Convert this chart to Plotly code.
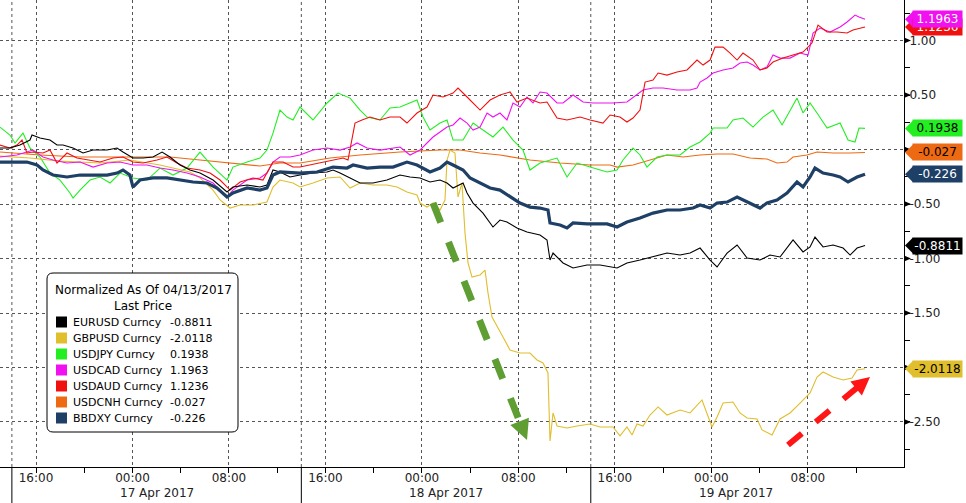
import plotly.graph_objects as go
import pandas as pd

BASE = pd.Timestamp("2017-04-16 16:00")

# ---- data: hours since 16 Apr 2017 16:00, normalized values ----
eur_h = [-2.99,-2.16,-1.33,-0.50,-0.33,0.33,1.16,1.74,2.24,3.07,3.90,4.73,5.89,6.72,7.21,8.04,8.87,9.70,10.45,11.11,11.94,12.77,13.60,14.68,15.84,16.33,17.50,18.57,19.15,19.65,20.23,21.06,21.89,22.97,24.13,24.63,25.21,26.04,26.87,27.94,29.10,30.18,31.01,31.84,32.67,33.50,34.08,34.58,35.41,35.74,36.24,37.06,37.89,38.47,39.05,39.88,40.71,41.79,42.37,42.62,42.87,43.70,44.53,45.69,46.77,48.18,49.00,50.08,51.16,52.32,53.40,54.23,55.06,55.89,56.47,57.30,58.13,58.96,60.03,60.86,61.69,62.77,63.60,64.18,64.59,65.26,66.09,66.92,67.50,68.08,68.74]
eur_v = [0.014,0.014,0.041,0.087,0.133,0.106,0.087,0.041,0.041,0.014,-0.032,-0.005,-0.005,0.014,-0.023,-0.078,-0.078,-0.069,-0.023,-0.069,-0.142,-0.188,-0.216,-0.280,-0.390,-0.344,-0.326,-0.344,-0.326,-0.188,-0.206,-0.252,-0.234,-0.216,-0.206,-0.188,-0.216,-0.261,-0.307,-0.307,-0.280,-0.234,-0.252,-0.261,-0.298,-0.280,-0.307,-0.353,-0.307,-0.399,-0.491,-0.583,-0.711,-0.647,-0.665,-0.720,-0.757,-0.784,-0.830,-1.014,-0.950,-1.041,-1.087,-1.060,-1.060,-1.087,-1.041,-1.014,-0.986,-0.950,-0.968,-0.950,-0.904,-1.014,-1.078,-0.950,-0.876,-0.995,-1.014,-0.968,-0.986,-0.830,-0.940,-0.894,-0.803,-0.894,-0.876,-0.904,-0.968,-0.904,-0.881]

gbp_h = [-2.99,-0.50,1.99,5.31,7.79,10.28,12.77,13.60,14.68,15.26,16.09,16.92,17.99,19.15,19.65,20.23,21.31,21.89,22.97,24.13,25.21,26.04,26.87,27.94,29.10,29.93,30.76,31.59,31.84,32.42,32.92,33.50,33.91,34.08,34.33,34.74,34.99,35.32,35.57,35.82,36.15,36.82,37.23,37.48,37.81,38.23,38.72,39.30,40.13,40.96,41.54,42.04,42.45,42.62,42.87,43.20,44.03,44.86,45.94,46.77,47.84,48.42,49.00,49.42,49.83,50.33,50.91,51.58,52.32,53.40,54.23,55.22,56.05,56.47,56.97,57.79,58.37,58.96,59.78,60.20,61.03,61.69,62.52,63.35,64.18,64.76,65.26,66.09,66.92,67.66,68.08,68.74]
gbp_v = [-0.060,-0.078,-0.106,-0.124,-0.096,-0.142,-0.206,-0.261,-0.372,-0.463,-0.537,-0.509,-0.509,-0.482,-0.344,-0.280,-0.307,-0.344,-0.307,-0.261,-0.252,-0.353,-0.307,-0.326,-0.326,-0.344,-0.390,-0.417,-0.491,-0.528,-0.491,-0.555,-0.463,-0.096,-0.005,-0.032,-0.436,-0.307,-0.766,-1.041,-1.170,-1.151,-1.106,-1.317,-1.537,-1.628,-1.720,-1.839,-1.867,-1.867,-1.931,-1.959,-2.050,-2.674,-2.417,-2.537,-2.555,-2.537,-2.518,-2.546,-2.546,-2.628,-2.546,-2.619,-2.518,-2.537,-2.436,-2.362,-2.436,-2.390,-2.417,-2.298,-2.546,-2.454,-2.326,-2.317,-2.417,-2.463,-2.472,-2.573,-2.619,-2.472,-2.417,-2.326,-2.234,-2.087,-2.041,-2.087,-2.115,-2.096,-2.023,-2.012]

jpy_h = [-2.99,-2.16,-1.74,-1.08,-0.50,0.33,1.16,1.99,2.82,3.07,3.65,4.48,5.31,6.14,6.97,8.04,9.20,10.28,11.36,12.52,13.60,14.68,15.84,16.33,17.50,18.57,19.15,19.65,20.23,20.81,21.31,21.89,22.97,24.13,25.04,26.04,26.87,27.45,28.52,29.35,30.18,31.59,32.09,32.67,33.50,34.08,34.58,35.41,36.24,37.06,37.89,38.72,39.55,40.38,40.96,41.79,43.20,44.03,44.86,45.94,47.35,48.18,48.67,49.50,50.08,50.66,51.49,52.32,53.40,54.23,55.06,55.89,56.14,57.30,57.79,58.62,59.45,60.28,61.11,61.86,62.52,63.10,63.60,64.18,64.76,65.59,66.67,67.33,67.91,68.24,68.74]
jpy_v = [0.206,0.133,0.060,0.151,0.014,-0.069,-0.216,-0.280,-0.399,-0.445,-0.372,-0.280,-0.252,-0.307,-0.216,-0.261,-0.280,-0.170,-0.234,-0.170,-0.023,-0.161,-0.280,-0.161,-0.115,-0.078,-0.005,0.151,0.362,0.298,0.271,0.390,0.271,0.427,0.518,0.472,0.362,0.298,0.271,0.381,0.390,0.454,0.298,0.179,0.243,0.271,0.087,0.087,0.243,0.179,0.115,0.206,0.087,-0.005,-0.188,-0.124,-0.078,-0.252,-0.124,-0.161,-0.206,-0.188,-0.096,0.014,-0.050,-0.161,-0.069,-0.050,-0.050,0.023,0.069,0.151,0.197,0.197,0.271,0.289,0.206,0.298,0.362,0.225,0.362,0.472,0.335,0.427,0.335,0.197,0.243,0.087,0.069,0.197,0.194]

cad_h = [-2.99,-1.58,-0.25,0.58,1.41,2.57,3.65,4.73,5.89,6.97,8.04,9.20,10.28,11.36,12.52,13.60,14.68,15.84,16.33,17.50,18.57,19.15,19.65,20.23,21.06,21.89,22.97,24.13,25.21,26.04,26.62,27.45,28.52,29.60,30.18,31.01,31.84,32.42,32.92,33.50,34.08,34.58,35.16,35.74,36.24,36.82,37.40,37.89,38.47,39.05,39.55,40.13,40.71,41.21,41.79,42.37,43.20,43.70,44.53,45.36,46.19,47.35,47.84,49.00,49.83,50.33,51.16,51.99,53.15,54.23,54.81,55.06,55.64,56.14,56.97,57.79,58.37,58.96,59.45,60.03,60.61,61.11,61.69,62.52,63.35,64.01,64.43,65.01,65.84,66.67,67.25,67.91,68.24,68.74]
cad_v = [-0.069,-0.050,-0.005,-0.069,-0.096,-0.124,-0.115,-0.161,-0.124,-0.115,-0.142,-0.142,-0.170,-0.188,-0.216,-0.252,-0.307,-0.436,-0.372,-0.280,-0.261,-0.216,-0.115,-0.069,-0.069,-0.050,-0.005,0.014,-0.005,0.023,0.060,0.014,-0.005,0.014,0.023,-0.050,-0.005,0.060,0.115,0.161,0.206,0.225,0.289,0.243,0.179,0.206,0.335,0.298,0.335,0.271,0.427,0.390,0.482,0.427,0.528,0.518,0.427,0.427,0.500,0.436,0.427,0.427,0.427,0.436,0.500,0.546,0.564,0.564,0.546,0.546,0.564,0.619,0.656,0.702,0.730,0.748,0.794,0.803,0.775,0.730,0.757,0.867,0.839,0.839,0.885,0.867,1.069,1.115,1.078,1.124,1.170,1.234,1.216,1.196]

aud_h = [-2.99,-2.16,-1.58,-1.16,-0.75,-0.25,0.58,1.16,1.74,2.57,3.40,4.48,5.31,6.38,7.21,8.04,8.87,10.03,10.86,11.69,12.52,13.60,14.43,15.26,16.09,16.92,17.99,18.82,19.65,20.48,21.31,21.89,23.55,25.46,25.87,26.20,26.45,27.03,27.69,28.52,29.35,30.18,30.76,31.59,32.42,32.92,33.75,34.58,34.99,35.74,36.24,36.82,37.65,38.47,39.30,39.88,40.71,41.79,42.37,43.20,44.03,45.11,45.94,47.01,47.60,48.42,49.00,49.50,50.08,50.50,51.16,51.58,52.32,53.15,53.98,54.81,55.31,55.89,56.30,56.97,57.55,58.13,58.62,59.45,60.03,60.61,61.11,61.94,62.77,63.60,64.34,64.84,65.59,66.42,67.25,67.74,68.74]
aud_v = [0.041,0.014,0.041,0.087,-0.032,-0.023,-0.032,-0.005,-0.124,-0.032,-0.078,-0.096,-0.115,-0.078,-0.069,-0.115,-0.124,-0.096,-0.069,-0.124,-0.170,-0.188,-0.216,-0.280,-0.372,-0.298,-0.261,-0.280,-0.115,-0.115,-0.161,-0.161,-0.124,-0.078,-0.096,0.087,0.243,0.271,0.298,0.271,0.298,0.298,0.243,0.335,0.390,0.500,0.482,0.518,0.564,0.482,0.427,0.362,0.454,0.500,0.528,0.436,0.472,0.427,0.436,0.289,0.271,0.298,0.271,0.243,0.317,0.298,0.252,0.289,0.362,0.619,0.638,0.702,0.683,0.711,0.730,0.821,0.775,0.821,0.940,0.940,0.885,0.821,0.885,0.821,0.730,0.748,0.803,0.839,0.867,0.894,0.977,1.142,1.078,1.078,1.069,1.096,1.124]

cnh_h = [-2.99,0.33,3.65,7.79,11.11,13.60,16.09,18.57,20.23,21.89,24.38,26.87,30.18,33.50,35.16,36.82,38.47,40.96,43.45,45.94,47.60,48.18,49.50,50.91,52.32,53.65,55.06,56.47,57.79,59.20,60.61,61.44,62.27,62.77,63.93,64.76,66.09,67.50,68.74]
cnh_v = [-0.023,-0.050,-0.069,-0.069,-0.069,-0.096,-0.124,-0.151,-0.124,-0.124,-0.078,-0.050,-0.023,-0.005,-0.005,-0.032,-0.050,-0.096,-0.124,-0.142,-0.142,-0.161,-0.142,-0.096,-0.050,-0.069,-0.050,-0.041,-0.041,-0.078,-0.087,-0.124,-0.115,-0.069,-0.050,-0.023,-0.032,-0.032,-0.027]

dxy_h = [-2.99,-0.75,0.08,0.58,1.41,2.57,3.65,4.73,5.89,6.72,7.21,7.79,8.04,8.62,9.70,10.86,11.94,13.02,14.18,15.01,15.84,16.33,17.50,18.57,19.15,19.65,20.23,21.31,21.89,23.30,24.63,25.79,26.29,27.45,28.52,29.60,30.76,31.59,32.67,33.50,34.08,34.58,35.41,35.99,36.82,37.65,38.47,39.30,40.13,40.96,41.79,42.45,42.62,43.45,44.03,44.53,45.69,47.35,48.18,49.00,50.08,51.16,52.32,53.40,54.48,55.06,55.89,56.47,57.30,58.13,58.96,60.03,60.61,61.44,62.27,63.10,63.60,64.18,64.59,65.26,66.09,66.67,67.33,68.08,68.74]
dxy_v = [-0.115,-0.115,-0.142,-0.188,-0.234,-0.252,-0.234,-0.234,-0.234,-0.216,-0.188,-0.234,-0.344,-0.280,-0.261,-0.261,-0.280,-0.298,-0.307,-0.353,-0.436,-0.399,-0.353,-0.372,-0.353,-0.234,-0.206,-0.216,-0.216,-0.206,-0.161,-0.170,-0.142,-0.170,-0.161,-0.161,-0.115,-0.142,-0.206,-0.170,-0.115,-0.142,-0.188,-0.261,-0.307,-0.353,-0.372,-0.436,-0.491,-0.528,-0.537,-0.555,-0.674,-0.693,-0.720,-0.674,-0.683,-0.683,-0.711,-0.665,-0.628,-0.583,-0.555,-0.555,-0.537,-0.509,-0.537,-0.491,-0.482,-0.436,-0.482,-0.537,-0.491,-0.463,-0.399,-0.298,-0.344,-0.252,-0.170,-0.216,-0.234,-0.252,-0.298,-0.252,-0.226]

names = ["EURUSD Curncy", "GBPUSD Curncy", "USDJPY Curncy", "USDCAD Curncy",
         "USDAUD Curncy", "USDCNH Curncy", "BBDXY Curncy"]
last_txt = ["-0.8811", "-2.0118", "0.1938", "1.1963", "1.1236", "-0.027", "-0.226"]
last_val = [-0.8811, -2.0118, 0.1938, 1.1963, 1.1236, -0.027, -0.226]
colors = ["#000000", "#E0BE2C", "#22EE22", "#F010F0", "#F01010", "#EE6A12", "#1E3F66"]
tag_font = ["white", "black", "black", "white", "white", "black", "white"]
hours = [eur_h, gbp_h, jpy_h, cad_h, aud_h, cnh_h, dxy_h]
vals = [eur_v, gbp_v, jpy_v, cad_v, aud_v, cnh_v, dxy_v]

ytick_vals = [1.0, 0.5, 0.0, -0.5, -1.0, -1.5, -2.0, -2.5]
ytick_text = ["1.00", "0.50", "", "-0.50", "-1.00", "-1.50", "", "-2.50"]

FONT = "DejaVu Sans"
W, H = 904.0, 467.0          # plot area in pixels
Y0, Y1 = -2.913, 1.372       # y range


def t(h):
    return BASE + pd.to_timedelta(h, unit="h")


def px(x):
    return x / W


def py(y):
    return (H - y) / H


fig = go.Figure()
draw_order = [5, 2, 1, 3, 4, 0, 6]
for i in draw_order:
    fig.add_trace(go.Scatter(
        x=[t(h) for h in hours[i]], y=vals[i], mode="lines",
        line=dict(color=colors[i], width=3.2 if i == 6 else 1.1),
        name=names[i], hoverinfo="skip", showlegend=False))

shapes = []
ann = []

# day separators (14:00 each day) - dotted in plot, solid below axis
for d in ["2017-04-16 14:00", "2017-04-17 14:00", "2017-04-18 14:00"]:
    shapes.append(dict(type="line", xref="x", yref="paper", x0=d, x1=d, y0=0, y1=1,
                       line=dict(color="#555", width=1, dash="dot"), layer="below"))
    shapes.append(dict(type="line", xref="x", yref="paper", x0=d, x1=d, y0=0, y1=-36 / H,
                       line=dict(color="#000", width=1)))

for lab, d in [("17 Apr 2017", "2017-04-17 02:00"), ("18 Apr 2017", "2017-04-18 02:00"),
               ("19 Apr 2017", "2017-04-19 02:00")]:
    ann.append(dict(x=d, xref="x", y=py(493), yref="paper", text=lab, showarrow=False,
                    font=dict(family=FONT, size=12, color="#222"), xanchor="center", yanchor="middle"))

# right-axis major tick triangles
for v in ytick_vals:
    h = 3.0 / 109
    shapes.append(dict(type="path", xref="paper", yref="y",
                       path=f"M {px(904)},{v + h} L {px(911)},{v} L {px(904)},{v - h} Z",
                       fillcolor="black", line=dict(width=0)))

# value tags
tag_order = [0, 1, 2, 4, 3, 5, 6]
hh = 8.0 / 109
for i in tag_order:
    v = last_val[i]
    shapes.append(dict(type="path", xref="paper", yref="y",
                       path=f"M {px(905)},{v} L {px(913)},{v + hh} L {px(913)},{v - hh} Z",
                       fillcolor=colors[i], line=dict(width=0)))
    ann.append(dict(x=px(912), xref="paper", y=v, yref="y", xanchor="left", yanchor="middle",
                    text=last_txt[i], showarrow=False, bgcolor=colors[i],
                    font=dict(family=FONT, size=12, color=tag_font[i]),
                    width=49, height=16, borderpad=0, align="center"))

# legend box
lx0, ly0, lx1, ly1, r = 47, 273, 238, 432, 6
path = (f"M {px(lx0 + r)},{py(ly0)} L {px(lx1 - r)},{py(ly0)} Q {px(lx1)},{py(ly0)} {px(lx1)},{py(ly0 + r)} "
        f"L {px(lx1)},{py(ly1 - r)} Q {px(lx1)},{py(ly1)} {px(lx1 - r)},{py(ly1)} "
        f"L {px(lx0 + r)},{py(ly1)} Q {px(lx0)},{py(ly1)} {px(lx0)},{py(ly1 - r)} "
        f"L {px(lx0)},{py(ly0 + r)} Q {px(lx0)},{py(ly0)} {px(lx0 + r)},{py(ly0)} Z")
shapes.append(dict(type="path", xref="paper", yref="paper", path=path,
                   fillcolor="white", line=dict(color="black", width=1)))
ann.append(dict(x=px(143), y=py(290), xref="paper", yref="paper", text="Normalized As Of 04/13/2017",
                showarrow=False, xanchor="center", yanchor="middle",
                font=dict(family=FONT, size=12, color="black")))
ann.append(dict(x=px(143), y=py(306), xref="paper", yref="paper", text="Last Price",
                showarrow=False, xanchor="center", yanchor="middle",
                font=dict(family=FONT, size=12, color="black")))
for k in range(len(names)):
    yc = 322 + 16 * k
    shapes.append(dict(type="rect", xref="paper", yref="paper", x0=px(56), x1=px(67),
                       y0=py(yc + 5.5), y1=py(yc - 5.5), fillcolor=colors[k], line=dict(width=0)))
    ann.append(dict(x=px(71), y=py(yc), xref="paper", yref="paper", xanchor="left", yanchor="middle",
                    text=names[k], showarrow=False, font=dict(family=FONT, size=11, color="black")))
    ann.append(dict(x=px(168), y=py(yc), xref="paper", yref="paper", xanchor="left", yanchor="middle",
                    text=last_txt[k], showarrow=False, font=dict(family=FONT, size=11, color="black")))


# dashed arrows
def arrow(x0, y0, x1, y1, color, w, hl, hw):
    dx, dy = x1 - x0, y1 - y0
    L = (dx * dx + dy * dy) ** 0.5
    ux, uy = dx / L, dy / L
    bx, by = x1 - ux * hl, y1 - uy * hl
    shapes.append(dict(type="line", xref="paper", yref="paper", x0=px(x0), y0=py(y0),
                       x1=px(bx + ux * 2), y1=py(by + uy * 2),
                       line=dict(color=color, width=w, dash="dash")))
    nx, ny = -uy, ux
    shapes.append(dict(type="path", xref="paper", yref="paper",
                       path=f"M {px(x1)},{py(y1)} L {px(bx + nx * hw)},{py(by + ny * hw)} "
                            f"L {px(bx - nx * hw)},{py(by - ny * hw)} Z",
                       fillcolor=color, line=dict(width=0)))


arrow(433, 203, 527, 440, "#5E9E32", 7, 20, 10)
arrow(788, 445, 870, 377, "#FF1515", 6, 18, 9)

x_tickvals = []
x_ticktext = []
for d in ["2017-04-16", "2017-04-17", "2017-04-18", "2017-04-19"]:
    for hh_, lab in [("00:00", "00:00"), ("08:00", "08:00"), ("16:00", "16:00")]:
        x_tickvals.append(f"{d} {hh_}")
        x_ticktext.append(lab)

fig.update_layout(
    width=966, height=503,
    margin=dict(l=0, r=62, t=0, b=36),
    paper_bgcolor="white", plot_bgcolor="white",
    shapes=shapes, annotations=ann, showlegend=False,
    xaxis=dict(range=[t(-2.985), t(71.97)], tickvals=x_tickvals, ticktext=x_ticktext,
               showgrid=True, gridcolor="#555", griddash="dot", gridwidth=1,
               showline=True, linecolor="black", linewidth=1, ticks="",
               minor=dict(ticks="outside", ticklen=5, tickcolor="black",
                          dtick=4 * 3600 * 1000, tick0="2017-04-16 00:00", showgrid=False),
               tickfont=dict(family=FONT, size=12, color="#222"), zeroline=False),
    yaxis=dict(range=[Y0, Y1], side="right", tickvals=ytick_vals, ticktext=ytick_text,
               showgrid=True, gridcolor="#555", griddash="dot", gridwidth=1,
               showline=True, linecolor="black", linewidth=1, ticks="",
               ticklabelstandoff=2,
               minor=dict(ticks="outside", ticklen=5, tickcolor="black", dtick=0.25, showgrid=False),
               tickfont=dict(family=FONT, size=12, color="#222"), zeroline=False),
)

fig.write_html("out.html", config={"displayModeBar": False},
               post_script="document.body.style.margin='0';document.body.style.overflow='hidden';")
